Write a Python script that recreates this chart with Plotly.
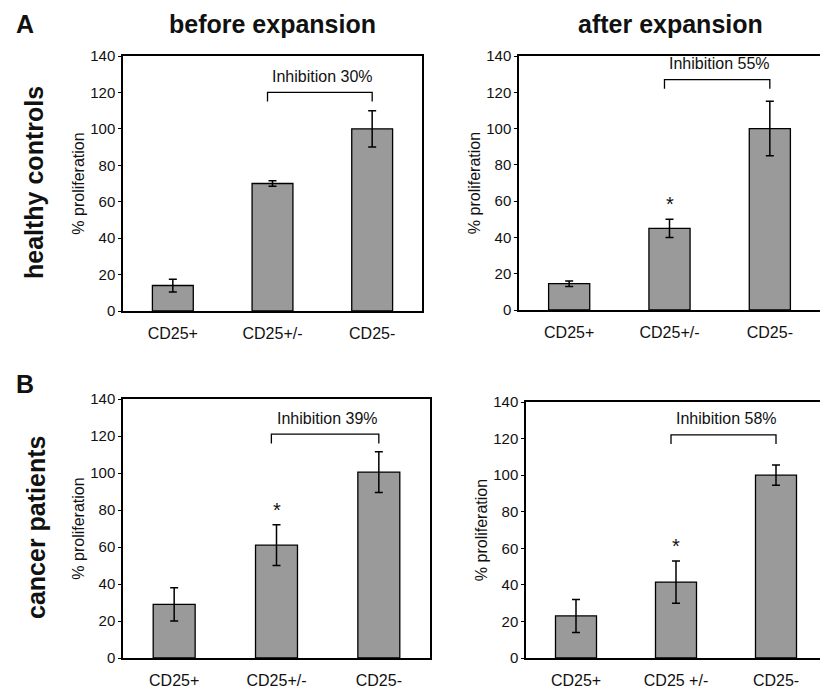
import plotly.graph_objects as go

# ---- data ----
cats_a_before = ["CD25+", "CD25+/-", "CD25-"]
vals_a_before = [14, 70, 100]
errs_a_before = [3.5, 1.5, 10]

cats_a_after = ["CD25+", "CD25+/-", "CD25-"]
vals_a_after = [14.5, 45, 100]
errs_a_after = [1.5, 5, 15]

cats_b_before = ["CD25+", "CD25+/-", "CD25-"]
vals_b_before = [29, 61, 100.5]
errs_b_before = [9, 11, 11]

cats_b_after = ["CD25+", "CD25 +/-", "CD25-"]
vals_b_after = [23, 41.5, 100]
errs_b_after = [9, 11.5, 5.5]

inhibition_labels = ["Inhibition 30%", "Inhibition 55%", "Inhibition 39%", "Inhibition 58%"]
bracket_levels = [120, 127, 121, 122]
star_panels = [False, True, True, True]

y_ticks = [0, 20, 40, 60, 80, 100, 120, 140]

# page has an 8px body margin; figure sized to fit the 828x688 window
OFF = 8
W, H = 828 - OFF, 688 - OFF
# plot boxes in window pixels: (left, right, top, bottom)
boxes = [(123, 422, 56, 311), (519, 820, 56, 310), (123, 430, 399, 658), (526, 826, 402, 658)]

panels = [
    (cats_a_before, vals_a_before, errs_a_before),
    (cats_a_after, vals_a_after, errs_a_after),
    (cats_b_before, vals_b_before, errs_b_before),
    (cats_b_after, vals_b_after, errs_b_after),
]

fig = go.Figure()
FONT = "Liberation Sans, Arial, sans-serif"

def px_x(x):
    return (x - OFF) / W

def px_y(y):
    return 1 - (y - OFF) / H

for i, ((cats, vals, errs), box) in enumerate(zip(panels, boxes)):
    n = i + 1
    xa = "x" if n == 1 else f"x{n}"
    ya = "y" if n == 1 else f"y{n}"
    fig.add_trace(go.Bar(
        x=cats, y=vals, xaxis=xa, yaxis=ya,
        width=0.41,
        marker=dict(color="#9a9a9a", line=dict(color="black", width=1.3)),
        error_y=dict(type="data", array=errs, visible=True, color="black", thickness=1.5, width=4),
        showlegend=False, hoverinfo="skip",
    ))
    l, r, t, b = box
    xdom = [px_x(l), min(px_x(r), 1.0)]
    ydom = [px_y(b), px_y(t)]
    fig.layout[("xaxis" if n == 1 else f"xaxis{n}")] = dict(
        domain=xdom, anchor=ya, type="category", range=[-0.5, 2.5],
        showline=True, linecolor="black", linewidth=1.5, mirror=True,
        ticks="", showgrid=False, zeroline=False, automargin=False,
        tickfont=dict(family=FONT, size=16, color="#111"),
        ticklabelstandoff=7,
    )
    fig.layout[("yaxis" if n == 1 else f"yaxis{n}")] = dict(
        domain=ydom, anchor=xa, range=[0, 140],
        tickvals=y_ticks, ticks="outside", ticklen=3, tickcolor="black", tickwidth=1,
        showline=True, linecolor="black", linewidth=1.5, mirror=True,
        showgrid=False, zeroline=False, automargin=False,
        tickfont=dict(family=FONT, size=15, color="#111"),
        title=dict(text="% proliferation", font=dict(family=FONT, size=16, color="#111"), standoff=2),
    )
    # inhibition bracket
    lvl = bracket_levels[i]
    fig.add_shape(type="path", xref=xa, yref=ya,
                  path=f"M 0.95 {lvl-5} L 0.95 {lvl} L 2 {lvl} L 2 {lvl-5}",
                  line=dict(color="black", width=1.3))
    fig.add_annotation(x=1.5, y=lvl + 3, xref=xa, yref=ya, text=inhibition_labels[i],
                       showarrow=False, yanchor="bottom", xanchor="center",
                       font=dict(family=FONT, size=16, color="#111"))
    if star_panels[i]:
        fig.add_annotation(x=1, y=vals[1] + errs[1] + 1, xref=xa, yref=ya, text="*",
                           showarrow=False, yanchor="bottom", xanchor="center",
                           font=dict(family=FONT, size=20, color="#111"))

# headings and panel letters
def ptxt(x, y, text, size, angle=0):
    fig.add_annotation(x=px_x(x), y=px_y(y), xref="paper", yref="paper", text=f"<b>{text}</b>",
                       showarrow=False, textangle=angle, xanchor="center", yanchor="middle",
                       font=dict(family=FONT, size=size, color="#111"))

ptxt(25, 24, "A", 25)
ptxt(25, 384, "B", 25)
ptxt(272, 24, "before expansion", 25)
ptxt(670, 24, "after expansion", 25)
ptxt(34, 183, "healthy controls", 25, -90)
ptxt(36, 528, "cancer patients", 25, -90)

fig.update_layout(
    width=W, height=H, margin=dict(l=0, r=0, t=0, b=0),
    paper_bgcolor="white", plot_bgcolor="white",
    bargap=0.59,
)
fig.write_html("out.html")
